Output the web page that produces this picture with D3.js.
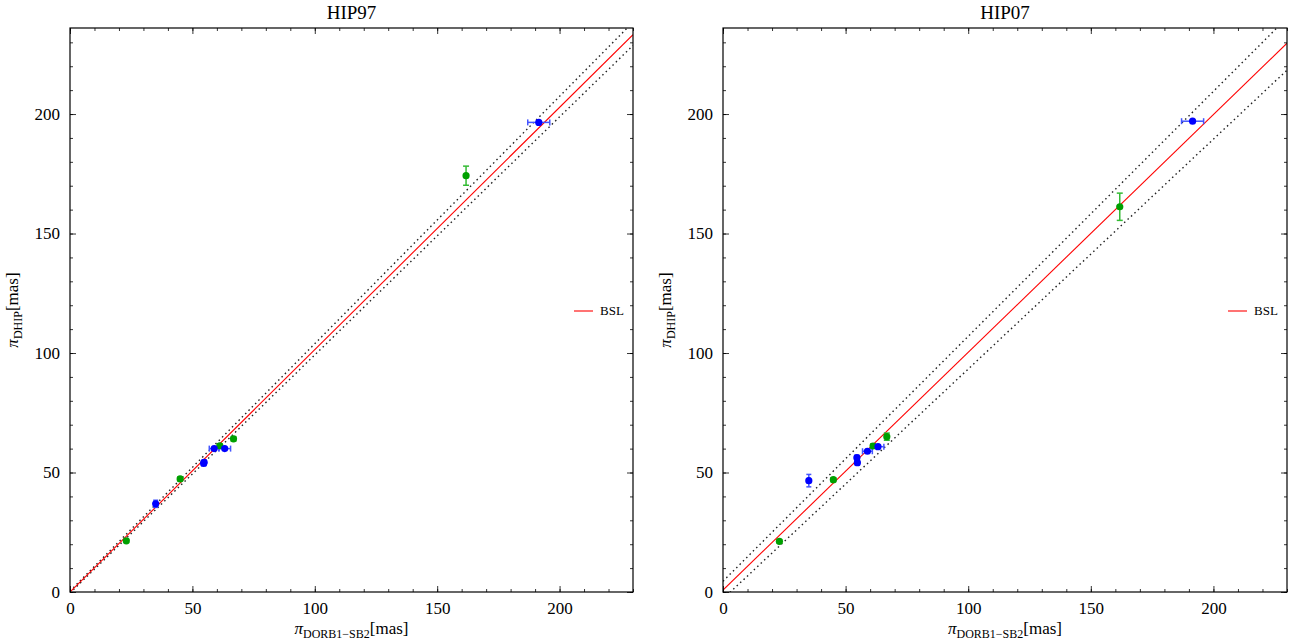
<!DOCTYPE html>
<html>
<head>
<meta charset="utf-8">
<script src="https://cdn.jsdelivr.net/npm/d3@7"></script>
<style>
  body { margin: 0; background: #fff; }
  svg text { font-family: "Liberation Serif", "DejaVu Serif", serif; }
</style>
</head>
<body>
<div id="chart"></div>
<script>
// green points (vertical error bars)
const greenX = [23.0, 45.0, 61.2, 66.8, 161.8];
const greenXErr = [0.4, 0.4, 0.5, 0.5, 0.6];
const greenHip97 = [21.4, 47.3, 61.2, 64.1, 174.2];
const greenHip97Err = [0.7, 0.8, 0.8, 0.9, 4.0];
const greenHip07 = [21.2, 47.0, 61.1, 65.0, 161.2];
const greenHip07Err = [0.7, 0.8, 0.9, 1.5, 5.7];

// blue points (horizontal error bars)
const blueX = [35.0, 54.6, 54.8, 58.9, 63.2, 191.5];
const blueXErr = [0.6, 0.8, 0.8, 2.0, 2.4, 4.5];
const blueHip97 = [36.9, 53.8, 54.3, 60.0, 60.0, 196.5];
const blueHip97Err = [1.5, 0.8, 0.8, 0.7, 0.7, 0.8];
const blueHip07 = [46.6, 56.2, 54.1, 58.9, 60.8, 197.0];
const blueHip07Err = [2.6, 1.0, 1.0, 0.8, 0.8, 0.6];

// fitted lines: [slope, intercept]
const bslHip97 = [1.014, 0.0];
const bandHip97 = [[1.035, 0.4], [0.996, -0.4]];
const bslHip07 = [0.995, 0.8];
const bandHip07 = [[1.025, 4.5], [0.962, -2.9]];

const xTicks = [0, 50, 100, 150, 200];
const yTicks = [0, 50, 100, 150, 200];
const xDomain = [0, 230];
const yDomain = [0, 236];

const W = 1294, H = 644;
const svg = d3.select("#chart").append("svg")
    .attr("width", W)
    .attr("height", H);

const panels = [
  { title: "HIP97", left: 70, right: 633, gy: greenHip97, gyErr: greenHip97Err,
    by: blueHip97, byErr: blueHip97Err, bsl: bslHip97, band: bandHip97 },
  { title: "HIP07", left: 723, right: 1287, gy: greenHip07, gyErr: greenHip07Err,
    by: blueHip07, byErr: blueHip07Err, bsl: bslHip07, band: bandHip07 }
];
const plotTop = 28, plotBottom = 592;

panels.forEach(p => {
  const x = d3.scaleLinear().domain(xDomain).range([p.left, p.right]);
  const y = d3.scaleLinear().domain(yDomain).range([plotBottom, plotTop]);
  const g = svg.append("g");

  const clipId = "clip-" + p.title;
  svg.append("clipPath").attr("id", clipId)
    .append("rect")
      .attr("x", p.left).attr("y", plotTop)
      .attr("width", p.right - p.left).attr("height", plotBottom - plotTop);

  const plot = g.append("g").attr("clip-path", `url(#${clipId})`);

  // lines
  const lineOf = (ab) => [[xDomain[0], ab[0] * xDomain[0] + ab[1]], [xDomain[1], ab[0] * xDomain[1] + ab[1]]];
  const line = d3.line().x(d => x(d[0])).y(d => y(d[1]));
  p.band.forEach(ab => {
    plot.append("path")
        .attr("d", line(lineOf(ab)))
        .attr("fill", "none")
        .attr("stroke", "#222")
        .attr("stroke-width", 1.4)
        .attr("stroke-dasharray", "1.5,3.2");
  });
  plot.append("path")
      .attr("d", line(lineOf(p.bsl)))
      .attr("fill", "none")
      .attr("stroke", "#ff0000")
      .attr("stroke-width", 1.1);

  // green error bars
  greenX.forEach((gx, i) => {
    const cx = x(gx), cy = y(p.gy[i]);
    const y0 = y(p.gy[i] - p.gyErr[i]), y1 = y(p.gy[i] + p.gyErr[i]);
    const eb = plot.append("g").attr("stroke", "#33bb33").attr("stroke-width", 1.5);
    eb.append("line").attr("x1", cx).attr("x2", cx).attr("y1", y0).attr("y2", y1);
    eb.append("line").attr("x1", cx - 3).attr("x2", cx + 3).attr("y1", y0).attr("y2", y0);
    eb.append("line").attr("x1", cx - 3).attr("x2", cx + 3).attr("y1", y1).attr("y2", y1);
    const x0 = x(gx - greenXErr[i]), x1 = x(gx + greenXErr[i]);
    eb.append("line").attr("x1", x0).attr("x2", x1).attr("y1", cy).attr("y2", cy);
  });
  // blue error bars
  blueX.forEach((bx, i) => {
    const cx = x(bx), cy = y(p.by[i]);
    const x0 = x(bx - blueXErr[i]), x1 = x(bx + blueXErr[i]);
    const y0 = y(p.by[i] - p.byErr[i]), y1 = y(p.by[i] + p.byErr[i]);
    const eb = plot.append("g").attr("stroke", "#4455ff").attr("stroke-width", 1.5);
    eb.append("line").attr("x1", x0).attr("x2", x1).attr("y1", cy).attr("y2", cy);
    eb.append("line").attr("x1", x0).attr("x2", x0).attr("y1", cy - 3).attr("y2", cy + 3);
    eb.append("line").attr("x1", x1).attr("x2", x1).attr("y1", cy - 3).attr("y2", cy + 3);
    eb.append("line").attr("x1", cx).attr("x2", cx).attr("y1", y0).attr("y2", y1);
    eb.append("line").attr("x1", cx - 2.5).attr("x2", cx + 2.5).attr("y1", y0).attr("y2", y0);
    eb.append("line").attr("x1", cx - 2.5).attr("x2", cx + 2.5).attr("y1", y1).attr("y2", y1);
  });

  plot.selectAll("circle.g").data(greenX).enter().append("circle")
      .attr("class", "g")
      .attr("cx", d => x(d))
      .attr("cy", (d, i) => y(p.gy[i]))
      .attr("r", 3.6)
      .attr("fill", "#00a000");
  plot.selectAll("circle.b").data(blueX).enter().append("circle")
      .attr("class", "b")
      .attr("cx", d => x(d))
      .attr("cy", (d, i) => y(p.by[i]))
      .attr("r", 3.6)
      .attr("fill", "#0000ff");

  // axes: labelled bottom/left, mirrored ticks top/right
  const fmt = d3.format("d");
  const minorX = d3.range(0, 231, 10), minorY = d3.range(0, 237, 10);
  g.append("g").attr("transform", `translate(0,${plotBottom})`)
      .call(d3.axisBottom(x).tickValues(xTicks).tickFormat(fmt).tickSizeInner(-6).tickSizeOuter(0).tickPadding(10));
  g.append("g").attr("transform", `translate(${p.left},0)`)
      .call(d3.axisLeft(y).tickValues(yTicks).tickFormat(fmt).tickSizeInner(-6).tickSizeOuter(0).tickPadding(10));
  g.append("g").attr("transform", `translate(0,${plotTop})`)
      .call(d3.axisTop(x).tickValues(xTicks).tickFormat("").tickSizeInner(-6).tickSizeOuter(0));
  g.append("g").attr("transform", `translate(${p.right},0)`)
      .call(d3.axisRight(y).tickValues(yTicks).tickFormat("").tickSizeInner(-6).tickSizeOuter(0));
  g.append("g").attr("transform", `translate(0,${plotBottom})`)
      .call(d3.axisBottom(x).tickValues(minorX).tickFormat("").tickSizeInner(-3).tickSizeOuter(0));
  g.append("g").attr("transform", `translate(0,${plotTop})`)
      .call(d3.axisTop(x).tickValues(minorX).tickFormat("").tickSizeInner(-3).tickSizeOuter(0));
  g.append("g").attr("transform", `translate(${p.left},0)`)
      .call(d3.axisLeft(y).tickValues(minorY).tickFormat("").tickSizeInner(-3).tickSizeOuter(0));
  g.append("g").attr("transform", `translate(${p.right},0)`)
      .call(d3.axisRight(y).tickValues(minorY).tickFormat("").tickSizeInner(-3).tickSizeOuter(0));
  g.selectAll(".domain").remove();
  g.selectAll(".tick line").attr("stroke", "#000").attr("stroke-width", 0.8);
  g.selectAll(".tick text")
      .attr("fill", "#000")
      .style("font-family", '"Liberation Serif", serif')
      .style("font-size", "17px");

  g.append("rect")
      .attr("x", p.left).attr("y", plotTop)
      .attr("width", p.right - p.left).attr("height", plotBottom - plotTop)
      .attr("fill", "none").attr("stroke", "#000").attr("stroke-width", 1.2);

  // title
  const cxMid = (p.left + p.right) / 2;
  g.append("text")
      .attr("x", cxMid).attr("y", 19)
      .attr("text-anchor", "middle")
      .style("font-size", "19px")
      .text(p.title);

  // x label
  const xl = g.append("text")
      .attr("x", cxMid).attr("y", 634)
      .attr("text-anchor", "middle")
      .style("font-size", "17px");
  xl.append("tspan").style("font-style", "italic").text("π");
  xl.append("tspan").attr("dy", 4).style("font-size", "12px").text("DORB1−SB2");
  xl.append("tspan").attr("dy", -4).text("[mas]");

  // y label
  const yl = g.append("text")
      .attr("transform", `translate(${p.left - 52},${(plotTop + plotBottom) / 2}) rotate(-90)`)
      .attr("text-anchor", "middle")
      .style("font-size", "17px");
  yl.append("tspan").style("font-style", "italic").text("π");
  yl.append("tspan").attr("dy", 4).style("font-size", "12px").text("DHIP");
  yl.append("tspan").attr("dy", -4).text("[mas]");

  // legend
  const lgX = p.right - 59, lgY = 311;
  g.append("line")
      .attr("x1", lgX).attr("x2", lgX + 19)
      .attr("y1", lgY).attr("y2", lgY)
      .attr("stroke", "#ff0000").attr("stroke-width", 1.1);
  g.append("text")
      .attr("x", lgX + 26).attr("y", lgY + 4)
      .style("font-size", "13px")
      .text("BSL");
});
</script>
</body>
</html>
